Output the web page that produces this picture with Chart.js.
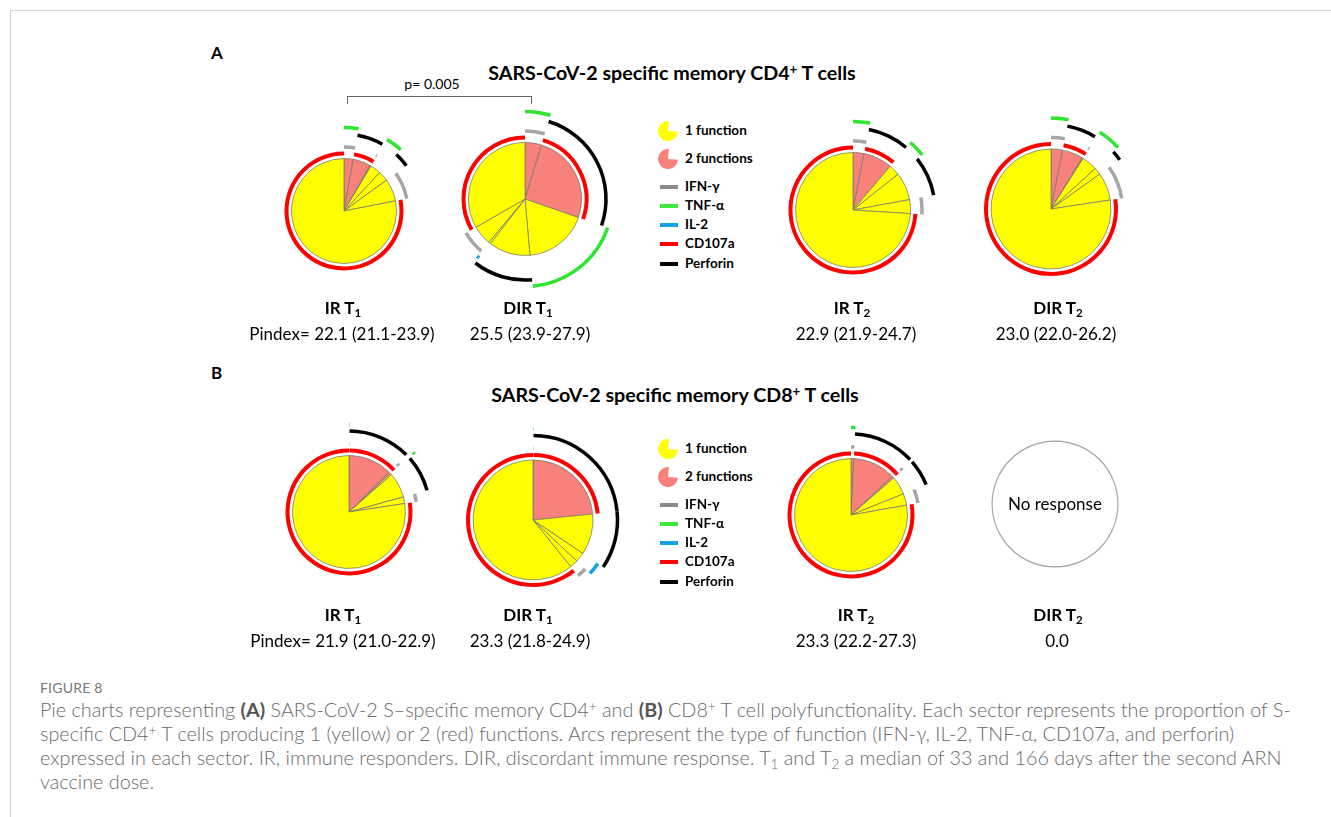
<!DOCTYPE html>
<html>
<head>
<meta charset="utf-8">
<title>Polyfunctionality pies</title>
<script src="https://cdn.jsdelivr.net/npm/chart.js@4.4.1/dist/chart.umd.min.js"></script>
<style>
  html, body { margin: 0; padding: 0; background: #fff; }
  #figure { position: relative; width: 1331px; height: 817px; overflow: hidden; font-family: Lato, "Open Sans", sans-serif; color: #000; }
  .frame { position: absolute; left: 10px; top: 10px; right: -2px; bottom: -2px; border-top: 1px solid #d6d6d6; border-left: 1px solid #d6d6d6; }
  .t { position: absolute; white-space: nowrap; line-height: 1; }
  .c { transform: translate(-50%, -50%); }
  .l { transform: translateY(-50%); }
  .panel { font-weight: 700; font-size: 17px; }
  .title { font-weight: 700; font-size: 19.7px; }
  .grp { font-weight: 700; font-size: 17px; }
  .val { font-size: 17px; }
  .leg { font-weight: 700; font-size: 13.5px; }
  .pv { font-size: 14px; }
  .nr { font-size: 17px; }
  sub, sup { font-size: 0.68em; line-height: 0; position: relative; vertical-align: baseline; }
  sub { top: 0.3em; }
  sup { top: -0.45em; }
  .swatch { position: absolute; width: 18px; height: 4px; }
  .bracket { position: absolute; border: 1px solid #666; border-bottom: none; height: 8px; box-sizing: border-box; }
  canvas { position: absolute; }
  .fig { position: absolute; left: 40px; font-size: 14px; color: #777; line-height: 1; transform: translateY(-50%); letter-spacing: 0.2px; }
  .cap { position: absolute; left: 40px; white-space: nowrap; font-weight: 300; font-size: 19.8px; color: #6a6a6a; line-height: 1; transform: translateY(-50%); }
  .cap b { font-weight: 700; color: #555; }
</style>
</head>
<body>
<div id="figure">
  <div class="frame"></div>

  <div class="t l panel" style="left:211px; top:52px">A</div>
  <div class="t c title" style="left:672px; top:73px">SARS-CoV-2 specific memory CD4<sup>+</sup> T cells</div>
  <div class="t c pv" style="left:432px; top:84px">p= 0.005</div>
  <div class="bracket" style="left:347px; top:96px; width:185px"></div>

  <div class="t l panel" style="left:211px; top:372px">B</div>
  <div class="t c title" style="left:675px; top:395px">SARS-CoV-2 specific memory CD8<sup>+</sup> T cells</div>

  <div class="fig" style="top:688px">FIGURE 8</div>
  <div class="cap" style="top:710px">Pie charts representing <b>(A)</b> SARS-CoV-2 S–specific memory CD4<sup>+</sup> and <b>(B)</b> CD8<sup>+</sup> T cell polyfunctionality. Each sector represents the proportion of S-</div>
  <div class="cap" style="top:734px">specific CD4<sup>+</sup> T cells producing 1 (yellow) or 2 (red) functions. Arcs represent the type of function (IFN-γ, IL-2, TNF-α, CD107a, and perforin)</div>
  <div class="cap" style="top:758px">expressed in each sector. IR, immune responders. DIR, discordant immune response. T<sub>1</sub> and T<sub>2</sub> a median of 33 and 166 days after the second ARN</div>
  <div class="cap" style="top:782px">vaccine dose.</div>
</div>

<script>
// functions, in arc order from the pie outwards
const functions = ["CD107a", "IFN-γ", "IL-2", "Perforin", "TNF-α"];
const functionColors = ["#ff0000", "#a6a6a6", "#12a2e6", "#000000", "#2fe52f"];
const legendFunctions = ["IFN-γ", "TNF-α", "IL-2", "CD107a", "Perforin"];
const legendSwatchColors = ["#8a8a8a", "#3ce83c", "#12a2e6", "#ff0000", "#000000"];

// slice categories, drawn clockwise from 12 o'clock
const combos = [
  ["IFN-γ", "TNF-α"],
  ["CD107a", "Perforin"],
  ["CD107a", "IFN-γ"],
  ["TNF-α"],
  ["Perforin"],
  ["IL-2"],
  ["IFN-γ"],
  ["CD107a"],
];

// % of specific memory T cells in each category
const cd4IrT1 = [2.8, 5.5, 0.3, 3.3, 3.1, 0, 6.9, 78.1];
const cd4DirT1 = [4.7, 25.6, 0, 18.3, 11.9, 0.6, 5.6, 33.3];
const cd4IrT2 = [3.1, 8.1, 0, 3.1, 7.8, 0, 3.9, 74.0];
const cd4DirT2 = [3.1, 5.6, 0.3, 4.2, 1.9, 0, 7.5, 77.4];
const cd8IrT1 = [0.1, 12.4, 0.6, 0.4, 7.2, 0, 1.9, 77.4];
const cd8DirT1 = [0.1, 23.3, 0, 0, 11.0, 2.6, 2.2, 60.8];
const cd8IrT2 = [0.8, 12.2, 0.6, 0, 5.3, 0, 3.3, 77.8];

const groups = [["IR", "1"], ["DIR", "1"], ["IR", "2"], ["DIR", "2"]];
const cd4Pindex = ["Pindex= 22.1 (21.1-23.9)", "25.5 (23.9-27.9)", "22.9 (21.9-24.7)", "23.0 (22.0-26.2)"];
const cd8Pindex = ["Pindex= 21.9 (21.0-22.9)", "23.3 (21.8-24.9)", "23.3 (22.2-27.3)", "0.0"];

const YELLOW = "#ffff00";
const PINK = "#f8817b";
const CLEAR = "rgba(0,0,0,0)";

const fig = document.getElementById("figure");

// radial layout of the arcs outside the pie (px), outermost first
const ARC_WIDTH = 3.5;
const CD107A_WIDTH = 4;
const ARC_GAPS = [3, 3, 3, 2.75, 3]; // gap under TNF-α, Perforin, IL-2, IFN-γ, CD107a
const ARC_SPAN = 4 * ARC_WIDTH + CD107A_WIDTH + ARC_GAPS.reduce((a, b) => a + b, 0);

const pies = [
  { values: cd4IrT1, x: 344, y: 211, r: 52.5 },
  { values: cd4DirT1, x: 525, y: 199, r: 56.5 },
  { values: cd4IrT2, x: 853, y: 209.5, r: 57.5 },
  { values: cd4DirT2, x: 1051, y: 208.5, r: 60 },
  { values: cd8IrT1, x: 349, y: 512, r: 56.5 },
  { values: cd8DirT1, x: 533, y: 520, r: 60 },
  { values: cd8IrT2, x: 851, y: 514.5, r: 56.5 },
];

function addCanvas(x, y, size) {
  const cv = document.createElement("canvas");
  cv.width = size;
  cv.height = size;
  cv.style.width = size + "px";
  cv.style.height = size + "px";
  cv.style.left = x - size / 2 + "px";
  cv.style.top = y - size / 2 + "px";
  fig.appendChild(cv);
  return cv;
}

function baseOptions(radius) {
  return {
    responsive: false,
    animation: false,
    events: [],
    cutout: 0,
    radius: radius,
    layout: { padding: 0 },
    plugins: { legend: { display: false }, tooltip: { enabled: false } },
  };
}

function arcDatasets(values) {
  const sets = [];
  for (let k = functions.length - 1; k >= 0; k--) {
    const fn = functions[k];
    sets.push({
      label: fn,
      data: values,
      backgroundColor: combos.map((c) => (c.includes(fn) ? functionColors[k] : CLEAR)),
      borderWidth: 0,
      weight: k === 0 ? CD107A_WIDTH : ARC_WIDTH,
    });
    sets.push({
      label: "gap",
      data: [1],
      backgroundColor: [CLEAR],
      borderWidth: 0,
      weight: ARC_GAPS[functions.length - 1 - k],
    });
  }
  return sets;
}

function drawPie(p) {
  const R = p.r + ARC_SPAN;
  const size = 2 * Math.ceil(R + 3);
  const cv = addCanvas(p.x, p.y, size);
  new Chart(cv, {
    type: "doughnut",
    data: {
      labels: combos.map((c) => c.join(" + ")),
      datasets: [
        ...arcDatasets(p.values),
        {
          label: "functions",
          data: p.values,
          backgroundColor: combos.map((c) => (c.length > 1 ? PINK : YELLOW)),
          borderColor: "#7c7c6c",
          borderWidth: 0.8,
          weight: p.r,
        },
      ],
    },
    options: baseOptions(R),
  });
}

pies.forEach(drawPie);

// outline only for the group without a response
new Chart(addCanvas(1055, 504, 132), {
  type: "doughnut",
  data: { labels: ["none"], datasets: [{ data: [1], backgroundColor: ["#a3a3a3"], borderWidth: 0 }] },
  options: { ...baseOptions(63.5), cutout: "98.2%" },
});

function text(cls, html, x, y) {
  const el = document.createElement("div");
  el.className = "t " + cls;
  el.innerHTML = html;
  el.style.left = x + "px";
  el.style.top = y + "px";
  fig.appendChild(el);
  return el;
}

text("c nr", "No response", 1055, 503);

// group names and Pindex under each pie
const rowA = { label: 307, value: 333, lx: [343, 528, 852, 1058], vx: [342, 530, 856, 1056] };
const rowB = { label: 614, value: 640, lx: [343, 528, 856, 1058], vx: [343, 530, 856, 1057] };
[[rowA, cd4Pindex], [rowB, cd8Pindex]].forEach(([row, pindex]) => {
  groups.forEach(([g, t], i) => {
    text("c grp", `${g} T<sub>${t}</sub>`, row.lx[i], row.label);
    text("c val", pindex[i], row.vx[i], row.value);
  });
});

// legends
const legendIconValues = [25, 75];
function drawLegend(top) {
  [["1 function", YELLOW], ["2 functions", PINK]].forEach(([name, color], i) => {
    const y = top + i * 28;
    new Chart(addCanvas(668, y, 24), {
      type: "pie",
      data: { labels: ["", name], datasets: [{ data: legendIconValues, backgroundColor: [CLEAR, color], borderWidth: 0 }] },
      options: { ...baseOptions(10), rotation: 5 },
    });
    text("l leg", name, 685, y);
  });
  const lineY = [56.5, 75.5, 94.5, 113, 133.5];
  legendFunctions.forEach((fn, i) => {
    const sw = document.createElement("div");
    sw.className = "swatch";
    sw.style.left = "660px";
    sw.style.top = top + lineY[i] - 2 + "px";
    sw.style.background = legendSwatchColors[i];
    fig.appendChild(sw);
    text("l leg", fn, 685, top + lineY[i]);
  });
}
drawLegend(130.5);
drawLegend(448.5);
</script>
</body>
</html>
